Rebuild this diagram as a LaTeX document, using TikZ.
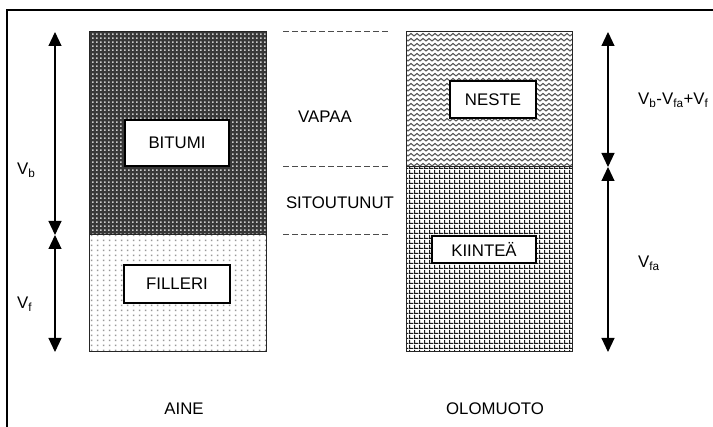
\documentclass[tikz,border=0pt]{standalone}
\usepackage{fontspec}
\setmainfont{Liberation Sans}
\usetikzlibrary{patterns,arrows.meta}
\pgfdeclarepatternformonly{bitchk}{\pgfqpoint{0pt}{0pt}}{\pgfqpoint{4pt}{4pt}}{\pgfqpoint{4pt}{4pt}}{%
  \pgfpathrectangle{\pgfqpoint{0pt}{0pt}}{\pgfqpoint{2pt}{2pt}}%
  \pgfusepath{fill}}
\pgfdeclarepatternformonly{filldots}{\pgfqpoint{0pt}{0pt}}{\pgfqpoint{6pt}{5pt}}{\pgfqpoint{6pt}{5pt}}{%
  \pgfpathrectangle{\pgfqpoint{1pt}{1pt}}{\pgfqpoint{1.8pt}{1.8pt}}%
  \pgfusepath{fill}}
\pgfdeclarepatternformonly{nestewave}{\pgfqpoint{-1pt}{-1pt}}{\pgfqpoint{7pt}{6pt}}{\pgfqpoint{6pt}{5pt}}{%
  \pgfsetlinewidth{1.1pt}%
  \pgfpathmoveto{\pgfqpoint{0pt}{1pt}}\pgfpathlineto{\pgfqpoint{3pt}{3.5pt}}\pgfpathlineto{\pgfqpoint{6pt}{1pt}}%
  \pgfusepath{stroke}}
\pgfdeclarepatternformonly{solidgrid}{\pgfqpoint{0pt}{0pt}}{\pgfqpoint{4.6pt}{4.6pt}}{\pgfqpoint{4.6pt}{4.6pt}}{%
  \pgfpathrectangle{\pgfqpoint{0pt}{0pt}}{\pgfqpoint{4.6pt}{1.3pt}}%
  \pgfpathrectangle{\pgfqpoint{0pt}{0pt}}{\pgfqpoint{1.3pt}{4.6pt}}%
  \pgfusepath{fill}}
\begin{document}
\begin{tikzpicture}[x=1pt,y=-1pt,
  every node/.style={font=\fontsize{16.8}{20}\selectfont, inner sep=0pt},
  colborder/.style={draw=black!85, line width=1pt},
  lblbox/.style={draw=black, fill=white, line width=1.2pt},
  dimarrow/.style={{Triangle[width=13pt,length=14pt]}-{Triangle[width=13pt,length=14pt]}, line width=1.1pt},
  sepline/.style={draw=black!70, line width=1pt, dash pattern=on 6pt off 3pt}]
\useasboundingbox (0,0) rectangle (713,427);
% frame (top and left edges only)
\draw[line width=2.2pt] (7,427) -- (7,10) -- (713,10);
% left column
\fill[black!78] (89,32) rectangle (266,235);
\fill[pattern=bitchk, pattern color=white!80!black] (89,32) rectangle (266,235);
\fill[white] (89,235) rectangle (266,352);
\fill[pattern=filldots, pattern color=black!40] (89,235) rectangle (266,352);
\draw[colborder] (89,32) rectangle (266,352);
\draw[colborder] (89,235) -- (266,235);
% right column
\fill[white] (406,32) rectangle (572,167);
\fill[pattern=nestewave, pattern color=black!65] (406,32) rectangle (572,167);
\fill[white] (406,167) rectangle (572,352);
\fill[pattern=solidgrid, pattern color=black!90] (406,167) rectangle (572,352);
\draw[colborder] (406,32) rectangle (572,352);
\draw[colborder] (406,167) -- (572,167);
% label boxes
\node[lblbox, minimum width=104pt, minimum height=46pt] (bitumi) at (177,143) {BITUMI};
\node[lblbox, minimum width=106pt, minimum height=38pt] (filleri) at (177,284) {FILLERI};
\node[lblbox, minimum width=86pt, minimum height=37pt] (neste) at (493,99.5) {NESTE};
\node[lblbox, minimum width=104pt, minimum height=27pt] (kiintea) at (484,249.5) {KIINTEÄ};
% dashed separators
\coordinate (d1a) at (283,32); \coordinate (d1b) at (388,32);
\coordinate (d2a) at (283,167); \coordinate (d2b) at (388,167);
\coordinate (d3a) at (283,235); \coordinate (d3b) at (388,235);
\draw[sepline] (d1a) -- (d1b);
\draw[sepline] (d2a) -- (d2b);
\draw[sepline] (d3a) -- (d3b);
% dimension arrows
\coordinate (lt) at (55,32); \coordinate (lm) at (55,235); \coordinate (lb) at (55,352);
\coordinate (rt) at (608,32); \coordinate (rm) at (608,167); \coordinate (rb) at (608,352);
\draw[dimarrow] (lt) -- (lm);
\draw[dimarrow] (lm) -- (lb);
\draw[dimarrow] (rt) -- (rm);
\draw[dimarrow] (rm) -- (rb);
% texts
\node[anchor=west] (vb) at (17,170) {V\textsubscript{b}};
\node[anchor=west] (vf) at (17,304) {V\textsubscript{f}};
\node (vapaa) at (325,117) {VAPAA};
\node (sitout) at (340,203) {SITOUTUNUT};
\node[anchor=west] (vsum) at (638,100) {V\textsubscript{b}-V\textsubscript{fa}+V\textsubscript{f}};
\node[anchor=west] (vfa) at (638,263) {V\textsubscript{fa}};
\node (aine) at (184,409) {AINE};
\node (olom) at (495,409) {OLOMUOTO};
\end{tikzpicture}
\end{document}
